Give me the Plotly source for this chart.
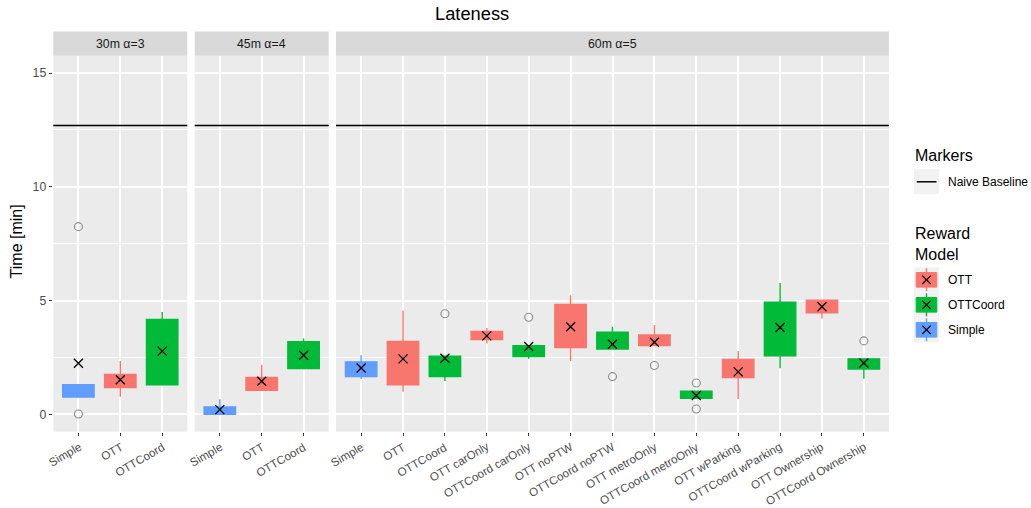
import plotly.graph_objects as go

# ---- data -------------------------------------------------------------
TITLE = "Lateness"
Y_TITLE = "Time [min]"
PANELS = ["30m α=3", "45m α=4", "60m α=5"]
NAIVE_BASELINE = 12.69

panel_idx = [0, 0, 0,
             1, 1, 1,
             2, 2, 2, 2, 2, 2, 2, 2, 2, 2, 2, 2, 2]
category = ["Simple", "OTT", "OTTCoord",
            "Simple", "OTT", "OTTCoord",
            "Simple", "OTT", "OTTCoord", "OTT carOnly", "OTTCoord carOnly",
            "OTT noPTW", "OTTCoord noPTW", "OTT metroOnly", "OTTCoord metroOnly",
            "OTT wParking", "OTTCoord wParking", "OTT Ownership", "OTTCoord Ownership"]
model = ["Simple", "OTT", "OTTCoord",
         "Simple", "OTT", "OTTCoord",
         "Simple", "OTT", "OTTCoord", "OTT", "OTTCoord",
         "OTT", "OTTCoord", "OTT", "OTTCoord",
         "OTT", "OTTCoord", "OTT", "OTTCoord"]
q1 = [0.76, 1.18, 1.30,
      0.00, 1.06, 2.01,
      1.66, 1.30, 1.66, 3.29, 2.54, 2.94, 2.87, 3.03, 0.71, 1.62, 2.57, 4.46, 1.99]
median = [1.00, 1.50, 2.60,
          0.15, 1.40, 2.60,
          2.00, 2.30, 2.20, 3.45, 2.90, 3.80, 3.20, 3.20, 0.85, 1.90, 3.60, 4.80, 2.20]
q3 = [1.30, 1.75, 4.17,
      0.33, 1.62, 3.19,
      2.31, 3.20, 2.56, 3.64, 3.02, 4.83, 3.61, 3.49, 1.02, 2.41, 4.93, 5.02, 2.44]
whisk_lo = [0.76, 0.78, 1.30,
            0.00, 1.06, 1.99,
            1.56, 0.99, 1.47, 3.11, 2.44, 2.35, 2.87, 3.03, 0.71, 0.68, 2.03, 4.21, 1.57]
whisk_hi = [1.30, 2.35, 4.50,
            0.67, 2.18, 3.33,
            2.60, 4.56, 2.56, 3.80, 3.02, 5.24, 3.85, 3.93, 1.02, 2.79, 5.77, 5.02, 2.44]
mean = [2.25, 1.52, 2.78,
        0.21, 1.46, 2.60,
        2.04, 2.44, 2.47, 3.45, 2.98, 3.85, 3.08, 3.17, 0.83, 1.87, 3.82, 4.73, 2.26]
outliers = [[0.02, 8.25], [], [],
            [], [], [],
            [], [], [4.42], [], [4.27], [], [1.66], [2.15], [1.38, 0.24], [], [], [], [3.23]]

MODELS = ["OTT", "OTTCoord", "Simple"]
COLORS = {"OTT": "#F8766D", "OTTCoord": "#00BA38", "Simple": "#619CFF"}

# ---- geometry (pixels) ------------------------------------------------
W, H = 1031, 508
PANEL_X = [(53.3, 187.3), (194.7, 328.7), (336.0, 889.0)]
PANEL_TOP, PANEL_BOTTOM = 55.7, 431.7
STRIP_TOP = 31.5
Y_RANGE = [-0.76, 15.76]
FONT = "Liberation Sans, Arial, sans-serif"
SMALL = 12.3
TICK_TEXT = 11.6
LEGEND_TEXT = 12.0
MID = 16.0
BIG = 18.3


def px(x):
    return x / W


def py(y):
    return 1 - y / H


fig = go.Figure()

# per-panel category positions
panel_cats = [[c for c, p in zip(category, panel_idx) if p == k] for k in range(3)]
pos = []
counters = [0, 0, 0]
for p in panel_idx:
    counters[p] += 1
    pos.append(counters[p])

axis_suffix = ["", "2", "3"]

for i in range(len(category)):
    p = panel_idx[i]
    col = COLORS[model[i]]
    fig.add_trace(go.Box(
        x=[pos[i]], q1=[q1[i]], median=[median[i]], q3=[q3[i]],
        lowerfence=[whisk_lo[i]], upperfence=[whisk_hi[i]],
        width=0.75, whiskerwidth=0, boxpoints=False,
        fillcolor=col, line=dict(color=col, width=1.4),
        xaxis="x" + axis_suffix[p], yaxis="y" + axis_suffix[p],
        showlegend=False, hoverinfo="skip",
    ))

# outlier points
for k in range(3):
    ox, oy = [], []
    for i in range(len(category)):
        if panel_idx[i] == k:
            for v in outliers[i]:
                ox.append(pos[i])
                oy.append(v)
    fig.add_trace(go.Scatter(
        x=ox, y=oy, mode="markers",
        marker=dict(symbol="circle-open", size=8, color="#8C8C8C", line=dict(width=1.1)),
        xaxis="x" + axis_suffix[k], yaxis="y" + axis_suffix[k],
        showlegend=False, hoverinfo="skip",
    ))

# mean markers
for k in range(3):
    mx = [pos[i] for i in range(len(category)) if panel_idx[i] == k]
    my = [mean[i] for i in range(len(category)) if panel_idx[i] == k]
    fig.add_trace(go.Scatter(
        x=mx, y=my, mode="markers",
        marker=dict(symbol="x-thin", size=9, color="black", line=dict(width=1.3, color="black")),
        xaxis="x" + axis_suffix[k], yaxis="y" + axis_suffix[k],
        showlegend=False, hoverinfo="skip",
    ))

# axes
layout_axes = {}
for k in range(3):
    n = len(panel_cats[k])
    x0, x1 = PANEL_X[k]
    layout_axes["xaxis" + axis_suffix[k]] = dict(
        domain=[px(x0), px(x1)], range=[0.4, n + 0.6],
        tickvals=list(range(1, n + 1)), showticklabels=False,
        ticks="outside", ticklen=3.6, tickwidth=1, tickcolor="#333333",
        showgrid=True, gridcolor="white", gridwidth=1.6,
        zeroline=False, showline=False, fixedrange=True, automargin=False,
        anchor="y" + axis_suffix[k],
    )
    ydict = dict(
        domain=[py(PANEL_BOTTOM), py(PANEL_TOP)], range=Y_RANGE,
        tickvals=[0, 5, 10, 15],
        showgrid=True, gridcolor="white", gridwidth=1.6,
        minor=dict(tickvals=[2.5, 7.5, 12.5], showgrid=True, gridcolor="white", gridwidth=0.8),
        zeroline=False, showline=False, fixedrange=True, automargin=False,
        anchor="x" + axis_suffix[k],
    )
    if k == 0:
        ydict.update(ticks="outside", ticklen=3.6, tickwidth=1, tickcolor="#333333",
                     tickfont=dict(size=SMALL, color="#4D4D4D", family=FONT))
    else:
        ydict.update(matches="y", showticklabels=False, ticks="")
    layout_axes["yaxis" + axis_suffix[k]] = ydict

fig.update_layout(**layout_axes)

shapes = []
annotations = []

# rotated category labels, top-right corner hung under each tick
for i in range(len(category)):
    annotations.append(dict(
        xref="x" + axis_suffix[panel_idx[i]], x=pos[i], yref="paper", y=py(438.3),
        text=category[i], textangle=-30, showarrow=False,
        xanchor="right", yanchor="top", xshift=5.5, borderpad=0,
        font=dict(size=TICK_TEXT, color="#4D4D4D", family=FONT),
    ))

# naive baseline line across each panel
for k in range(3):
    shapes.append(dict(type="line", xref="x" + axis_suffix[k] + " domain", x0=0, x1=1,
                       yref="y" + axis_suffix[k], y0=NAIVE_BASELINE, y1=NAIVE_BASELINE,
                       line=dict(color="black", width=1.5)))

# facet strips
for k in range(3):
    x0, x1 = PANEL_X[k]
    shapes.append(dict(type="rect", xref="paper", yref="paper",
                       x0=px(x0), x1=px(x1), y0=py(PANEL_TOP), y1=py(STRIP_TOP),
                       fillcolor="#D9D9D9", line=dict(width=0), layer="below"))
    annotations.append(dict(xref="paper", yref="paper", x=px((x0 + x1) / 2),
                            y=py((STRIP_TOP + PANEL_TOP) / 2), text=PANELS[k], showarrow=False,
                            xanchor="center", yanchor="middle",
                            font=dict(size=SMALL, color="#1A1A1A", family=FONT)))

# title and y-axis title
annotations.append(dict(xref="paper", yref="paper", x=px(471.5),
                        y=py(13.3), text=TITLE, showarrow=False, xanchor="center", yanchor="middle",
                        font=dict(size=BIG, color="black", family=FONT)))
annotations.append(dict(xref="paper", yref="paper", x=px(16.7), y=py(241.7),
                        text=Y_TITLE, textangle=-90, showarrow=False, xanchor="center", yanchor="middle",
                        font=dict(size=MID, color="black", family=FONT)))

# legend: markers
LX0, LX1 = 914.0, 939.0
TEXT_X = 946.3
annotations.append(dict(xref="paper", yref="paper", x=px(912.5), y=py(155), text="Markers",
                        showarrow=False, xanchor="left", yanchor="middle",
                        font=dict(size=MID, color="black", family=FONT)))
shapes.append(dict(type="rect", xref="paper", yref="paper", x0=px(LX0), x1=px(LX1),
                   y0=py(194.3), y1=py(169.3), fillcolor="#F2F2F2", line=dict(width=0)))
shapes.append(dict(type="line", xref="paper", yref="paper", x0=px(916.7), x1=px(936.5),
                   y0=py(181.8), y1=py(181.8), line=dict(color="black", width=1.5)))
annotations.append(dict(xref="paper", yref="paper", x=px(TEXT_X), y=py(181.8), text="Naive Baseline",
                        showarrow=False, xanchor="left", yanchor="middle",
                        font=dict(size=LEGEND_TEXT, color="black", family=FONT)))

# legend: reward model
annotations.append(dict(xref="paper", yref="paper", x=px(912.5), y=py(243.5), text="Reward<br>Model",
                        showarrow=False, xanchor="left", yanchor="middle", align="left",
                        font=dict(size=MID, color="black", family=FONT)))
KEY_TOP = 267.3
KEY_H = 25.0
for j, m in enumerate(MODELS):
    t = KEY_TOP + j * KEY_H
    cy = t + KEY_H / 2
    cx = (LX0 + LX1) / 2
    col = COLORS[m]
    shapes.append(dict(type="rect", xref="paper", yref="paper", x0=px(LX0), x1=px(LX1),
                       y0=py(t + KEY_H), y1=py(t), fillcolor="#F2F2F2", line=dict(width=0)))
    shapes.append(dict(type="line", xref="paper", yref="paper", x0=px(cx), x1=px(cx),
                       y0=py(t + KEY_H - 1), y1=py(t + 1), line=dict(color=col, width=1.4)))
    shapes.append(dict(type="rect", xref="paper", yref="paper", x0=px(916.2), x1=px(936.8),
                       y0=py(cy + 7.3), y1=py(cy - 7.3), fillcolor=col, line=dict(color=col, width=1)))
    d = 4.2
    shapes.append(dict(type="line", xref="paper", yref="paper", x0=px(cx - d), x1=px(cx + d),
                       y0=py(cy - d), y1=py(cy + d), line=dict(color="black", width=1.2)))
    shapes.append(dict(type="line", xref="paper", yref="paper", x0=px(cx - d), x1=px(cx + d),
                       y0=py(cy + d), y1=py(cy - d), line=dict(color="black", width=1.2)))
    annotations.append(dict(xref="paper", yref="paper", x=px(TEXT_X), y=py(cy), text=m,
                            showarrow=False, xanchor="left", yanchor="middle",
                            font=dict(size=LEGEND_TEXT, color="black", family=FONT)))

fig.update_layout(
    width=W, height=H,
    margin=dict(l=0, r=0, t=0, b=0, autoexpand=False),
    paper_bgcolor="white", plot_bgcolor="#EBEBEB",
    font=dict(family=FONT),
    shapes=shapes, annotations=annotations,
    showlegend=False,
)

fig.write_html("out.html")
